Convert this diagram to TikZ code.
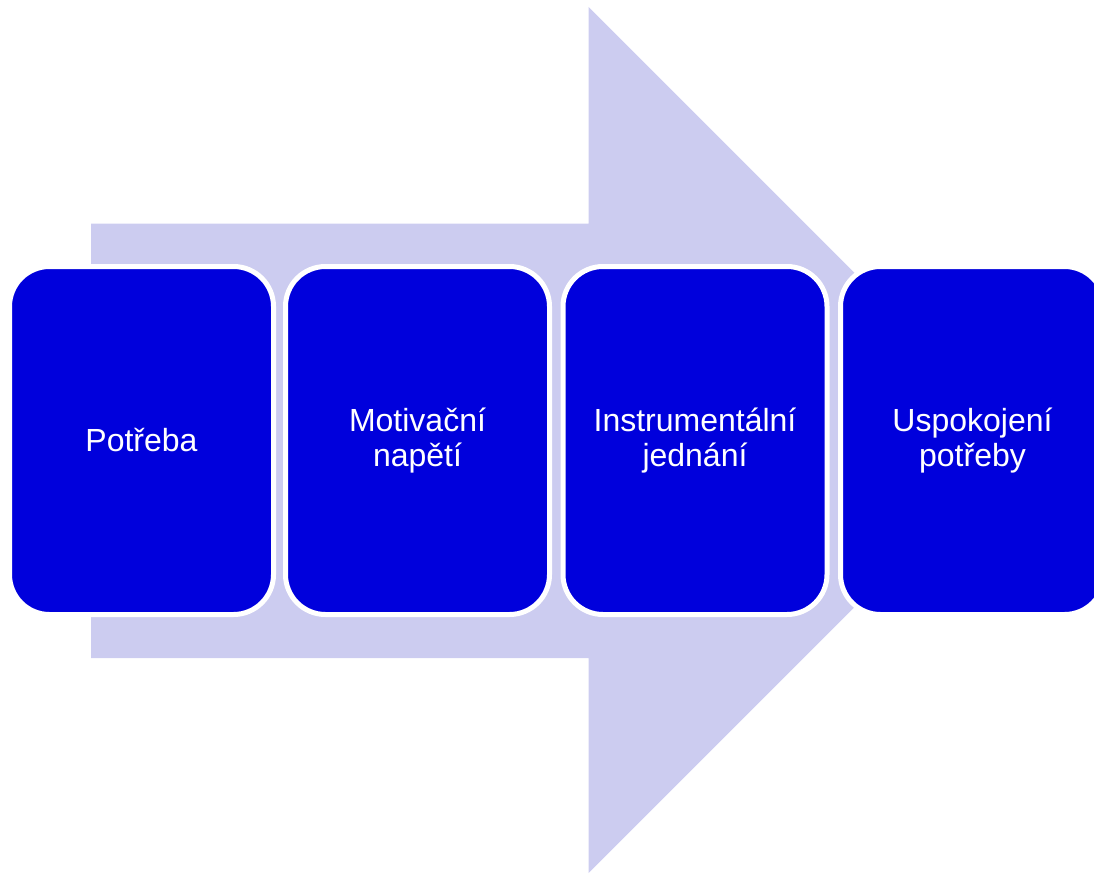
\documentclass[tikz,border=0pt]{standalone}
\usepackage{fontspec}
\setmainfont{Liberation Sans}
\definecolor{boxblue}{RGB}{0,0,220}
\definecolor{arrowfill}{RGB}{204,204,240}
\begin{document}
\begin{tikzpicture}[x=1pt,y=-1pt,
  stepbox/.style={draw=white, line width=5pt, fill=boxblue, rounded corners=40pt,
    minimum width=264pt, minimum height=348pt, inner sep=0pt,
    text=white, align=center, font=\fontsize{32pt}{34.5pt}\selectfont}]
\useasboundingbox (0,0) rectangle (1094,875);
\fill[arrowfill] (91,223.5) -- (588.5,223.5) -- (588.5,7) -- (1021.5,440) -- (588.5,873) -- (588.5,658) -- (91,658) -- cycle;
\node[stepbox] (b1) at (141.5,440.5) {Potřeba};
\node[stepbox] (b2) at (417.5,440.5) {Motivační\\napětí};
\node[stepbox] (b3) at (695,440.5) {Instrumentální\\jednání};
\node[stepbox] (b4) at (972.5,440.5) {Uspokojení\\potřeby};
\end{tikzpicture}
\end{document}
